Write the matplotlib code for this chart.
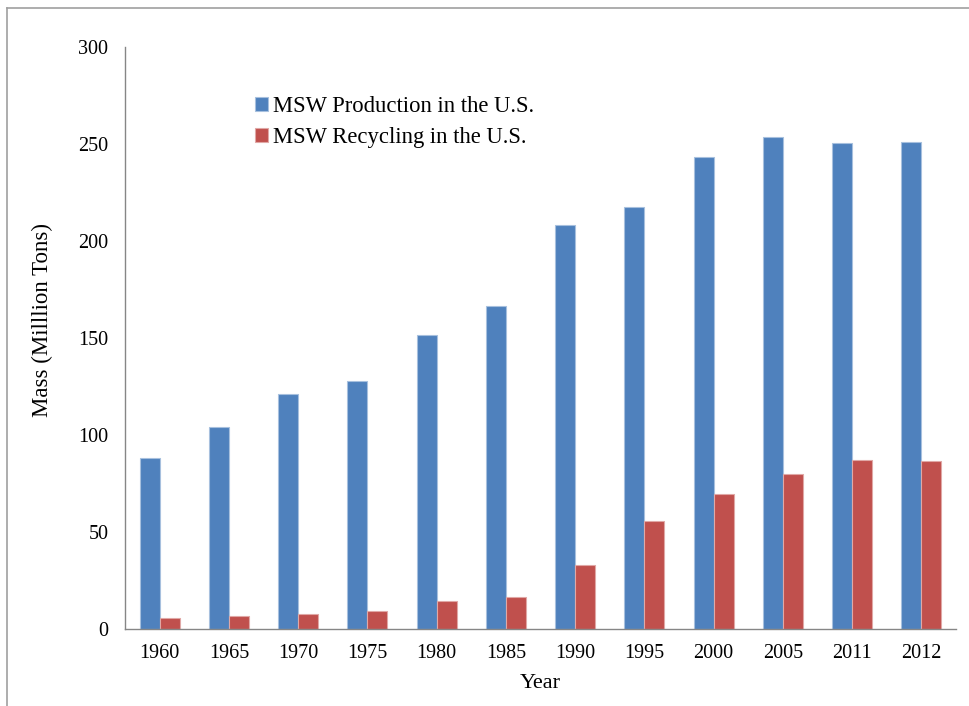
import numpy as np
import matplotlib.pyplot as plt
from matplotlib.lines import Line2D

# ==================
# Data
# ==================
years = ['1960', '1965', '1970', '1975', '1980', '1985', '1990',
         '1995', '2000', '2005', '2011', '2012']
production = [88.1, 104.0, 121.1, 128.1, 151.6, 166.3, 208.3,
              217.3, 243.5, 253.7, 250.4, 250.9]
recycling = [5.6, 6.5, 8.0, 9.3, 14.5, 16.7, 33.2,
             55.8, 69.5, 79.8, 86.9, 86.6]
y_ticks = [0, 50, 100, 150, 200, 250, 300]

plt.rcParams['font.family'] = ['Liberation Serif', 'DejaVu Serif']

# ==================
# Plot
# ==================
fig = plt.figure(figsize=(9.69, 7.06), dpi=100)
ax = fig.add_axes([0.129, 0.109, 0.8576, 0.8244])

x = np.arange(len(years))
w = 0.29
ax.bar(x - w / 2, production, width=w, color='#4F81BD', edgecolor='#A7C0DE',
       linewidth=0.8, label='MSW Production in the U.S.')
ax.bar(x + w / 2, recycling, width=w, color='#C0504D', edgecolor='#E0A8A6',
       linewidth=0.8, label='MSW Recycling in the U.S.')

ax.set_xlim(-0.5, len(years) - 0.5)
ax.set_ylim(0, 300)
ax.set_yticks(y_ticks)
ax.set_xticks(x)
ax.set_xticklabels(years)
ax.tick_params(axis='both', length=0, labelsize=14.5)
ax.tick_params(axis='y', pad=12)
ax.tick_params(axis='x', pad=11)

for side in ['top', 'right']:
    ax.spines[side].set_visible(False)
for side in ['left', 'bottom']:
    ax.spines[side].set_color('#868686')
    ax.spines[side].set_linewidth(1.0)

ax.set_xlabel('Year', fontsize=16)
ax.set_ylabel('Mass (Milllion Tons)', fontsize=16.5)
ax.xaxis.set_label_coords(0.5, -0.078)
ax.yaxis.set_label_coords(-0.0866, 0.531)

ax.legend(loc='upper left', bbox_to_anchor=(0.146, 0.931), frameon=False,
          fontsize=16.3, handlelength=0.55, handleheight=0.55, handletextpad=0.25,
          labelspacing=0.43, borderaxespad=0)

# frame lines along the left and top edges
fig.add_artist(Line2D([0.0075, 0.0075], [0, 0.989], color='#A0A0A0', lw=1.2,
                      transform=fig.transFigure))
fig.add_artist(Line2D([0.0075, 1.0], [0.989, 0.989], color='#A0A0A0', lw=1.2,
                      transform=fig.transFigure))

plt.savefig('out.png', dpi=100)
plt.close()
